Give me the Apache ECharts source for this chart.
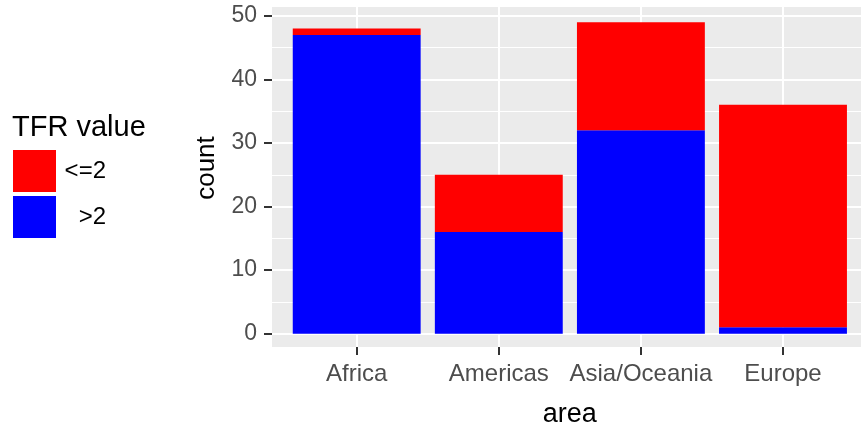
<!DOCTYPE html>
<html>
<head>
<meta charset="utf-8">
<script src="https://cdn.jsdelivr.net/npm/echarts@6/dist/echarts.min.js"></script>
<style>
html,body{margin:0;padding:0;background:#fff;}
#chart{width:861px;height:424px;}
</style>
</head>
<body>
<div id="chart"></div>
<script>
const categories = ['Africa', 'Americas', 'Asia/Oceania', 'Europe'];
const countGt2 = [47, 16, 32, 1];
const countLe2 = [1, 9, 17, 35];
const yMajorTicks = [0, 10, 20, 30, 40, 50];
const yMinorTicks = [5, 15, 25, 35, 45];
const legendTitle = 'TFR value';
const seriesNames = ['<=2', '>2'];

const positions = categories.map((c, i) => i + 1);
const FONT = '"Liberation Sans", Arial, sans-serif';
const Y_MIN = -2.1, Y_MAX = 51.4;

const chart = echarts.init(document.getElementById('chart'), null, {renderer: 'canvas'});
chart.setOption({
  animation: false,
  backgroundColor: '#ffffff',
  title: {
    text: legendTitle, left: 7, top: 108,
    textStyle: {fontFamily: FONT, fontSize: 29, fontWeight: 'normal', color: '#000'}
  },
  legend: {
    orient: 'vertical', left: 8, top: 145,
    itemWidth: 43, itemHeight: 42, itemGap: 4, icon: 'rect',
    data: seriesNames,
    formatter: name => '{a|' + name + '}',
    textStyle: {
      fontFamily: FONT, fontSize: 24, color: '#000',
      rich: {a: {width: 45, align: 'right', fontFamily: FONT, fontSize: 24, color: '#000'}}
    }
  },
  grid: [
    {left: 272, right: 0, top: 7, bottom: 77, show: true, backgroundColor: '#EBEBEB', borderWidth: 0, outerBoundsMode: 'none', containLabel: false},
    {left: 285.65, right: 6.95, top: 7, bottom: 77, show: false, outerBoundsMode: 'none', containLabel: false}
  ],
  xAxis: [{
    gridIndex: 0, type: 'value', min: 0.4, max: 4.55,
    axisLine: {show: false, onZero: false},
    axisTick: {show: false, customValues: positions},
    axisLabel: {show: false, customValues: positions},
    splitLine: {show: true, lineStyle: {color: '#ffffff', width: 2}}
  }, {
    gridIndex: 1, type: 'category', data: categories, boundaryGap: true, position: 'bottom',
    name: 'area', nameLocation: 'middle', nameGap: 54,
    nameTextStyle: {fontFamily: FONT, fontSize: 27, color: '#000'},
    axisLine: {show: false, onZero: false},
    axisTick: {show: true, alignWithLabel: true, length: 8, lineStyle: {color: '#333333', width: 2}},
    axisLabel: {margin: 15, fontFamily: FONT, fontSize: 24, color: '#4D4D4D', interval: 0},
    splitLine: {show: false}
  }],
  yAxis: [{
    gridIndex: 0, type: 'value', min: Y_MIN, max: Y_MAX,
    name: 'count', nameLocation: 'middle', nameGap: 52, nameRotate: 90,
    nameTextStyle: {fontFamily: FONT, fontSize: 26, color: '#000', padding: [0, 0, 0, 18]},
    axisLine: {show: false, onZero: false},
    axisTick: {show: true, length: 8, customValues: yMajorTicks, lineStyle: {color: '#333333', width: 2}},
    axisLabel: {customValues: yMajorTicks, margin: 15, fontFamily: FONT, fontSize: 23, color: '#4D4D4D'},
    splitLine: {show: true, lineStyle: {color: '#ffffff', width: 2}}
  }, {
    gridIndex: 0, type: 'value', min: Y_MIN, max: Y_MAX, position: 'left',
    axisLine: {show: false, onZero: false},
    axisTick: {show: false, customValues: yMinorTicks},
    axisLabel: {show: false, customValues: yMinorTicks},
    splitLine: {show: true, lineStyle: {color: '#ffffff', width: 1.2}}
  }, {
    gridIndex: 1, type: 'value', min: Y_MIN, max: Y_MAX,
    axisLine: {show: false, onZero: false}, axisTick: {show: false}, axisLabel: {show: false}, splitLine: {show: false}
  }],
  series: [{
    name: seriesNames[1], type: 'bar', stack: 'total', barWidth: '90%',
    xAxisIndex: 1, yAxisIndex: 2,
    itemStyle: {color: '#0000FF'},
    data: countGt2
  }, {
    name: seriesNames[0], type: 'bar', stack: 'total', barWidth: '90%',
    xAxisIndex: 1, yAxisIndex: 2,
    itemStyle: {color: '#FF0000'},
    data: countLe2
  }]
});
</script>
</body>
</html>
